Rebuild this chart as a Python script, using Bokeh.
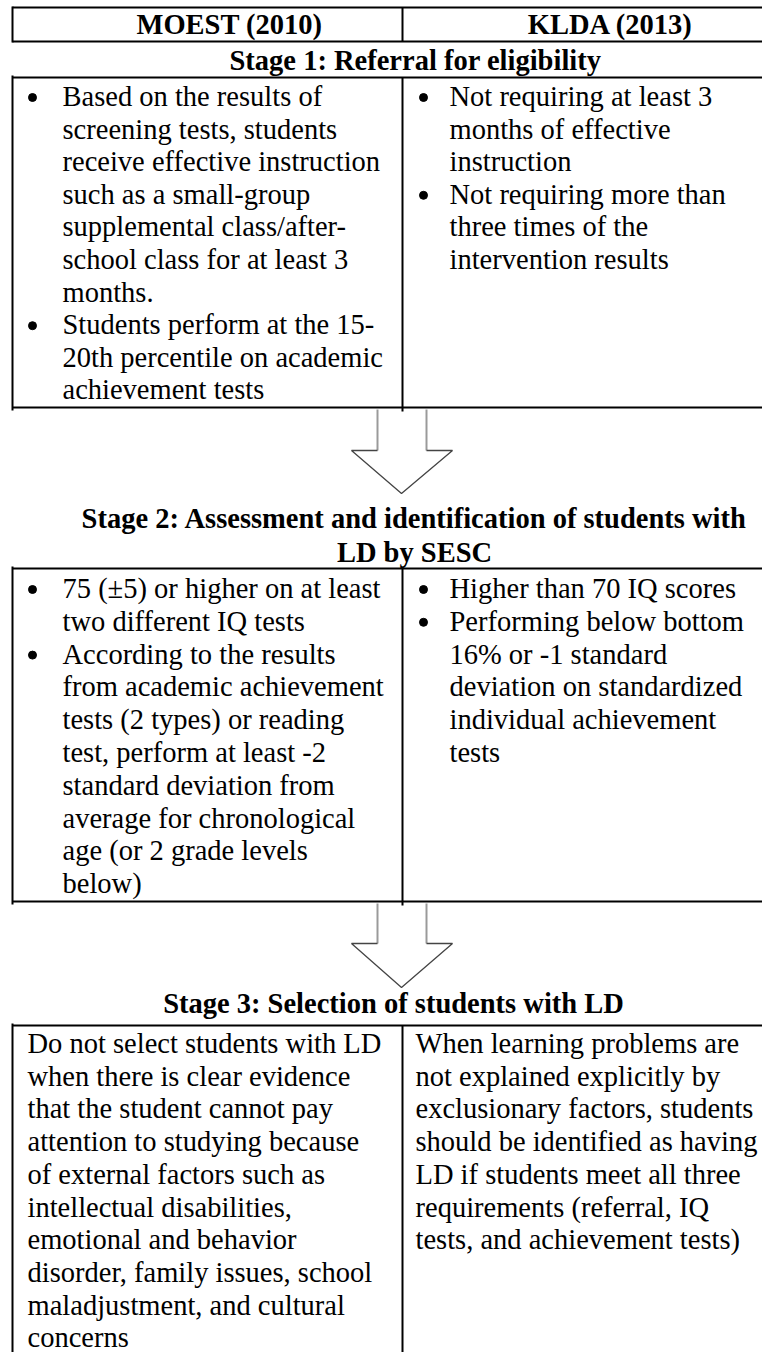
from bokeh.plotting import figure
from bokeh.models import Range1d
from bokeh.core.properties import value
from bokeh.embed import file_html
from bokeh.resources import INLINE

# ---------------- data (texts of the flowchart) ----------------
header = ["MOEST (2010)", "KLDA (2013)"]

stage1_title = ["Stage 1: Referral for eligibility"]
stage2_title = ["Stage 2: Assessment and identification of students with",
                "LD by SESC"]
stage3_title = ["Stage 3: Selection of students with LD"]

stage1_moest = [
    ["Based on the results of", "screening tests, students",
     "receive effective instruction", "such as a small-group",
     "supplemental class/after-", "school class for at least 3", "months."],
    ["Students perform at the 15-", "20th percentile on academic",
     "achievement tests"],
]
stage1_klda = [
    ["Not requiring at least 3", "months of effective", "instruction"],
    ["Not requiring more than", "three times of the", "intervention results"],
]
stage2_moest = [
    ["75 (\u00b15) or higher on at least", "two different IQ tests"],
    ["According to the results", "from academic achievement",
     "tests (2 types) or reading", "test, perform at least -2",
     "standard deviation from", "average for chronological",
     "age (or 2 grade levels", "below)"],
]
stage2_klda = [
    ["Higher than 70 IQ scores"],
    ["Performing below bottom", "16% or -1 standard",
     "deviation on standardized", "individual achievement", "tests"],
]
stage3_moest = [
    ["Do not select students with LD", "when there is clear evidence",
     "that the student cannot pay", "attention to studying because",
     "of external factors such as", "intellectual disabilities,",
     "emotional and behavior", "disorder, family issues, school",
     "maladjustment, and cultural", "concerns"],
]
stage3_klda = [
    ["When learning problems are", "not explained explicitly by",
     "exclusionary factors, students", "should be identified as having",
     "LD if students meet all three", "requirements (referral, IQ",
     "tests, and achievement tests)"],
]

# ---------------- layout ----------------
W, H = 762, 1352
FONT = "'Liberation Serif', 'Times New Roman', serif"
FS = "28.5px"
LEFT, MID, RIGHT = 12, 402, 775

p = figure(width=W, height=H, x_range=Range1d(0, W), y_range=Range1d(H, 0),
           output_backend="svg", toolbar_location=None, min_border=0)
p.axis.visible = False
p.grid.visible = False
p.outline_line_color = None
p.background_fill_color = "white"
p.border_fill_color = "white"


def txt(xs, ys, texts, bold=False, align="left"):
    p.text(x=xs, y=ys, text=texts, text_font=value(FONT), text_font_size=FS,
           text_font_style="bold" if bold else "normal", text_baseline="middle",
           text_align=align, text_color="black")


def cell(items, y0, line_h, text_x, bullet_x=None):
    xs, ys, ts = [], [], []
    bxs, bys = [], []
    i = 0
    for item in items:
        for j, line in enumerate(item):
            y = y0 + i * line_h
            xs.append(text_x); ys.append(y); ts.append(line)
            if j == 0 and bullet_x is not None:
                bxs.append(bullet_x); bys.append(y + 1)
            i += 1
    txt(xs, ys, ts)
    if bxs:
        p.scatter(x=bxs, y=bys, size=8, marker="circle", color="black")


def hline(y, x0=LEFT, x1=RIGHT):
    p.segment(x0=[x0], y0=[y], x1=[x1], y1=[y], line_color="black", line_width=2)


def vline(x, y0, y1):
    p.segment(x0=[x], y0=[y0], x1=[x], y1=[y1], line_color="black", line_width=2)


def arrow(ytop, yneck, ytip):
    p.segment(x0=[377, 426], y0=[ytop, ytop], x1=[377, 426], y1=[yneck, yneck],
              line_color="#9a9a9a", line_width=2)
    p.line(x=[377, 351, 401, 452, 426], y=[yneck, yneck, ytip, yneck, yneck],
           line_color="#444444", line_width=1.3)


# header row
hline(7); hline(41)
vline(LEFT, 6, 42); vline(MID, 7, 41)
txt([229, 610], [24, 24], header, bold=True, align="center")

# stage 1
txt([415], [60], stage1_title, bold=True, align="center")
hline(77); hline(407)
vline(LEFT, 75, 410); vline(MID, 77, 411)
cell(stage1_moest, 96, 32.6, 62, 32)
cell(stage1_klda, 96, 32.6, 449, 423)
arrow(409, 450, 493)

# stage 2
txt([414, 414], [518, 552], stage2_title, bold=True, align="center")
hline(568); hline(901)
vline(LEFT, 566, 904); vline(MID, 568, 905)
cell(stage2_moest, 588, 32.8, 62, 32)
cell(stage2_klda, 588, 32.8, 449, 423)
arrow(903, 943, 987)

# stage 3
txt([393], [1003], stage3_title, bold=True, align="center")
hline(1025)
vline(LEFT, 1023, 1360); vline(MID, 1025, 1360)
cell(stage3_moest, 1043, 32.7, 27)
cell(stage3_klda, 1043, 32.7, 415)

open("out.html", "w").write(file_html(p, INLINE))
